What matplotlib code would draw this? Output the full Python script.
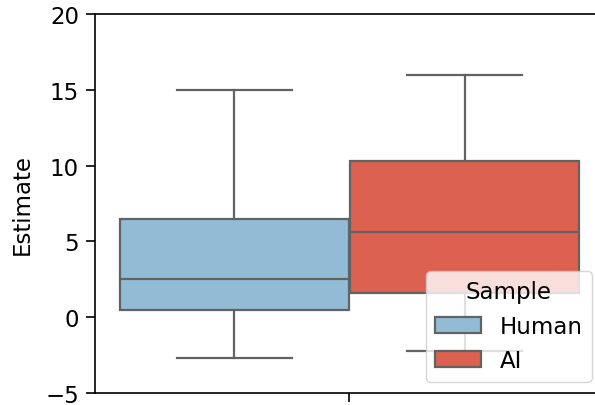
import matplotlib
matplotlib.use("Agg")
import matplotlib.pyplot as plt
from matplotlib.patches import Patch

# Summary statistics for each sample group
groups = ["Human", "AI"]
whisker_low = [-2.7, -2.2]
q1 = [0.45, 1.6]
median = [2.55, 5.65]
q3 = [6.5, 10.3]
whisker_high = [15.0, 16.0]
fill_colors = ["#92bcd5", "#dd6150"]
edge_color = "#626262"

y_ticks = [-5, 0, 5, 10, 15, 20]

plt.rcParams["font.family"] = "DejaVu Sans"
plt.rcParams["font.size"] = 16.5

fig = plt.figure(figsize=(5.95, 4.06), dpi=100)
ax = fig.add_axes([95 / 595, 12 / 406, 508 / 595, 379 / 406])

stats = []
for i, g in enumerate(groups):
    stats.append(dict(label=g, whislo=whisker_low[i], q1=q1[i], med=median[i],
                      q3=q3[i], whishi=whisker_high[i], fliers=[]))

positions = [-0.2255, 0.2275]
width = 0.452
lw = 1.6
bp = ax.bxp(stats, positions=positions, widths=width, patch_artist=True,
            showfliers=False, manage_ticks=False,
            boxprops=dict(edgecolor=edge_color, linewidth=lw),
            medianprops=dict(color=edge_color, linewidth=lw),
            whiskerprops=dict(color=edge_color, linewidth=lw),
            capprops=dict(color=edge_color, linewidth=lw),
            capwidths=width / 2)
for patch, c in zip(bp["boxes"], fill_colors):
    patch.set_facecolor(c)

ax.set_xlim(-0.5, 0.5)
ax.set_ylim(-5, 20)
ax.set_yticks(y_ticks)
ax.set_xticks([0])
ax.set_xticklabels([""])
ax.set_ylabel("Estimate", labelpad=8)
ax.tick_params(length=6.5, width=1.2)
ax.tick_params(axis="y", pad=5)
for s in ax.spines.values():
    s.set_linewidth(1.2)

handles = [Patch(facecolor=c, edgecolor=edge_color, linewidth=lw, label=g)
           for g, c in zip(groups, fill_colors)]
ax.legend(handles=handles, title="Sample", loc="lower right")

fig.savefig("out.png", dpi=100)
